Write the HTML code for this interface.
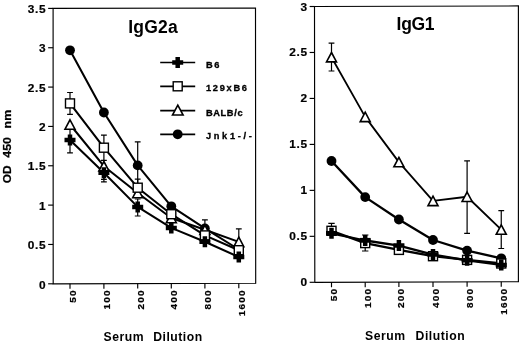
<!DOCTYPE html>
<html><head><meta charset="utf-8"><title>chart</title>
<style>
html,body{margin:0;padding:0;background:#fff;}
svg{display:block;will-change:transform;}
text{font-family:"Liberation Sans",sans-serif;font-weight:bold;fill:#000;}
.yt{font-size:11px;letter-spacing:0.6px;stroke:#000;stroke-width:0.2px;}
.xt{font-size:9.1px;letter-spacing:1.05px;stroke:#000;stroke-width:0.2px;}
.xl{font-size:12.2px;}
.yl{font-size:11.2px;stroke:#000;stroke-width:0.25px;}
.ti{font-size:17.5px;}
.lg{font-size:8.5px;stroke:#000;stroke-width:0.3px;}
</style></head>
<body>
<svg width="520" height="343" viewBox="0 0 520 343">
<rect width="520" height="343" fill="#fff"/>
<path d="M70 103.4 V92.5 M67.1 92.5 H72.9" stroke="#000" stroke-width="1.2" fill="none"/><path d="M70 103.4 V114.4 M67.1 114.4 H72.9" stroke="#000" stroke-width="1.2" fill="none"/><path d="M103.9 147.7 V135.1 M101.0 135.1 H106.80000000000001" stroke="#000" stroke-width="1.2" fill="none"/><path d="M103.9 147.7 V160.4 M101.0 160.4 H106.80000000000001" stroke="#000" stroke-width="1.2" fill="none"/><path d="M137.7 187.7 V179.2 M134.79999999999998 179.2 H140.6" stroke="#000" stroke-width="1.2" fill="none"/><path d="M137.7 165.4 V141.8 M134.79999999999998 141.8 H140.6" stroke="#000" stroke-width="1.2" fill="none"/><path d="M137.7 165.4 V189.0 M134.79999999999998 189.0 H140.6" stroke="#000" stroke-width="1.2" fill="none"/><path d="M70 140.0 V127.1 M67.1 127.1 H72.9" stroke="#000" stroke-width="1.2" fill="none"/><path d="M70 140.0 V152.9 M67.1 152.9 H72.9" stroke="#000" stroke-width="1.2" fill="none"/><path d="M103.9 172.8 V179.4 M101.0 179.4 H106.80000000000001" stroke="#000" stroke-width="1.2" fill="none"/><path d="M103.9 172.8 V181.8 M101.0 181.8 H106.80000000000001" stroke="#000" stroke-width="1.2" fill="none"/><path d="M137.7 206.9 V199 M134.79999999999998 199 H140.6" stroke="#000" stroke-width="1.2" fill="none"/><path d="M137.7 206.9 V216.0 M134.79999999999998 216.0 H140.6" stroke="#000" stroke-width="1.2" fill="none"/><path d="M204.9 229.8 V219.8 M202.0 219.8 H207.8" stroke="#000" stroke-width="1.2" fill="none"/><path d="M238.8 241.9 V228.8 M235.9 228.8 H241.70000000000002" stroke="#000" stroke-width="1.2" fill="none"/>
<path d="M70 50.3 L103.9 112.5 L137.7 165.4 L171.3 206.3 L204.9 228.4 L238.8 249.5" fill="none" stroke="#000" stroke-width="2.05" stroke-linejoin="round"/>
<path d="M70 103.4 L103.9 147.7 L137.7 187.7 L171.3 214.2 L204.9 235.4 L238.8 250.2" fill="none" stroke="#000" stroke-width="2.05" stroke-linejoin="round"/>
<path d="M70 124.5 L103.9 166.2 L137.7 193.0 L171.3 218.0 L204.9 229.8 L238.8 241.9" fill="none" stroke="#000" stroke-width="2.05" stroke-linejoin="round"/>
<path d="M70 140.0 L103.9 172.8 L137.7 206.9 L171.3 227.9 L204.9 241.7 L238.8 257.0" fill="none" stroke="#000" stroke-width="2.05" stroke-linejoin="round"/>
<circle cx="70" cy="50.3" r="4.9" fill="#000"/>
<circle cx="103.9" cy="112.5" r="4.9" fill="#000"/>
<circle cx="137.7" cy="165.4" r="4.9" fill="#000"/>
<circle cx="171.3" cy="206.3" r="4.9" fill="#000"/>
<circle cx="204.9" cy="228.4" r="4.9" fill="#000"/>
<circle cx="238.8" cy="249.5" r="4.9" fill="#000"/>
<path d="M70.00 119.80 L75.00 129.20 L65.00 129.20 Z" fill="#fff" stroke="#000" stroke-width="1.6" stroke-linejoin="miter"/>
<path d="M103.90 161.50 L108.90 170.90 L98.90 170.90 Z" fill="#fff" stroke="#000" stroke-width="1.6" stroke-linejoin="miter"/>
<path d="M137.70 188.30 L142.70 197.70 L132.70 197.70 Z" fill="#fff" stroke="#000" stroke-width="1.6" stroke-linejoin="miter"/>
<path d="M171.30 213.30 L176.30 222.70 L166.30 222.70 Z" fill="#fff" stroke="#000" stroke-width="1.6" stroke-linejoin="miter"/>
<path d="M204.90 225.10 L209.90 234.50 L199.90 234.50 Z" fill="#fff" stroke="#000" stroke-width="1.6" stroke-linejoin="miter"/>
<path d="M238.80 237.20 L243.80 246.60 L233.80 246.60 Z" fill="#fff" stroke="#000" stroke-width="1.6" stroke-linejoin="miter"/>
<rect x="65.50" y="98.90" width="9.0" height="9.0" fill="#fff" stroke="#000" stroke-width="1.4"/>
<rect x="99.40" y="143.20" width="9.0" height="9.0" fill="#fff" stroke="#000" stroke-width="1.4"/>
<rect x="133.20" y="183.20" width="9.0" height="9.0" fill="#fff" stroke="#000" stroke-width="1.4"/>
<rect x="166.80" y="209.70" width="9.0" height="9.0" fill="#fff" stroke="#000" stroke-width="1.4"/>
<rect x="200.40" y="230.90" width="9.0" height="9.0" fill="#fff" stroke="#000" stroke-width="1.4"/>
<rect x="234.30" y="245.70" width="9.0" height="9.0" fill="#fff" stroke="#000" stroke-width="1.4"/>
<path d="M67.75 134.50 h4.5 v3.25 h3.25 v4.5 h-3.25 v3.25 h-4.5 v-3.25 h-3.25 v-4.5 h3.25 Z" fill="#000"/>
<path d="M101.65 167.30 h4.5 v3.25 h3.25 v4.5 h-3.25 v3.25 h-4.5 v-3.25 h-3.25 v-4.5 h3.25 Z" fill="#000"/>
<path d="M135.45 201.40 h4.5 v3.25 h3.25 v4.5 h-3.25 v3.25 h-4.5 v-3.25 h-3.25 v-4.5 h3.25 Z" fill="#000"/>
<path d="M169.05 222.40 h4.5 v3.25 h3.25 v4.5 h-3.25 v3.25 h-4.5 v-3.25 h-3.25 v-4.5 h3.25 Z" fill="#000"/>
<path d="M202.65 236.20 h4.5 v3.25 h3.25 v4.5 h-3.25 v3.25 h-4.5 v-3.25 h-3.25 v-4.5 h3.25 Z" fill="#000"/>
<path d="M236.55 251.50 h4.5 v3.25 h3.25 v4.5 h-3.25 v3.25 h-4.5 v-3.25 h-3.25 v-4.5 h3.25 Z" fill="#000"/>
<path d="M53.1 8.4 L255.5 8.0 L255.7 283.3 L53.2 283.8 Z" fill="none" stroke="#000" stroke-width="1.15"/>
<path d="M48.15 283.80 H53.15" stroke="#000" stroke-width="1.15"/>
<text transform="translate(46.2,288.50) scale(1.08,1)" text-anchor="end" class="yt">0</text>
<path d="M48.15 244.46 H53.15" stroke="#000" stroke-width="1.15"/>
<text transform="translate(46.2,249.16) scale(1.08,1)" text-anchor="end" class="yt">0.5</text>
<path d="M48.15 205.11 H53.15" stroke="#000" stroke-width="1.15"/>
<text transform="translate(46.2,209.81) scale(1.08,1)" text-anchor="end" class="yt">1</text>
<path d="M48.15 165.77 H53.15" stroke="#000" stroke-width="1.15"/>
<text transform="translate(46.2,170.47) scale(1.08,1)" text-anchor="end" class="yt">1.5</text>
<path d="M48.15 126.43 H53.15" stroke="#000" stroke-width="1.15"/>
<text transform="translate(46.2,131.13) scale(1.08,1)" text-anchor="end" class="yt">2</text>
<path d="M48.15 87.09 H53.15" stroke="#000" stroke-width="1.15"/>
<text transform="translate(46.2,91.79) scale(1.08,1)" text-anchor="end" class="yt">2.5</text>
<path d="M48.15 47.74 H53.15" stroke="#000" stroke-width="1.15"/>
<text transform="translate(46.2,52.44) scale(1.08,1)" text-anchor="end" class="yt">3</text>
<path d="M48.15 8.40 H53.15" stroke="#000" stroke-width="1.15"/>
<text transform="translate(46.2,13.10) scale(1.08,1)" text-anchor="end" class="yt">3.5</text>
<path d="M70 283.76 V288.76" stroke="#000" stroke-width="1.15"/>
<text transform="translate(76.10,289.4) rotate(-90) scale(1.1,1)" text-anchor="end" class="xt">50</text>
<path d="M103.9 283.67 V288.67" stroke="#000" stroke-width="1.15"/>
<text transform="translate(110.00,289.4) rotate(-90) scale(1.1,1)" text-anchor="end" class="xt">100</text>
<path d="M137.7 283.59 V288.59" stroke="#000" stroke-width="1.15"/>
<text transform="translate(143.80,289.4) rotate(-90) scale(1.1,1)" text-anchor="end" class="xt">200</text>
<path d="M171.3 283.51 V288.51" stroke="#000" stroke-width="1.15"/>
<text transform="translate(177.40,289.4) rotate(-90) scale(1.1,1)" text-anchor="end" class="xt">400</text>
<path d="M204.9 283.43 V288.43" stroke="#000" stroke-width="1.15"/>
<text transform="translate(211.00,289.4) rotate(-90) scale(1.1,1)" text-anchor="end" class="xt">800</text>
<path d="M238.8 283.34 V288.34" stroke="#000" stroke-width="1.15"/>
<text transform="translate(244.90,289.4) rotate(-90) scale(1.1,1)" text-anchor="end" class="xt">1600</text>
<text x="103.5" y="340.6" class="xl" textLength="40" lengthAdjust="spacing">Serum</text>
<text x="153.3" y="340.6" class="xl" textLength="48.8" lengthAdjust="spacing">Dilution</text>
<text x="128.3" y="32.7" class="ti" textLength="49.4" lengthAdjust="spacing">IgG2a</text>
<text transform="translate(11.1,183.3) rotate(-90)" class="yl" textLength="17.7" lengthAdjust="spacingAndGlyphs">OD</text>
<text transform="translate(11.1,157.7) rotate(-90)" class="yl" textLength="20.6" lengthAdjust="spacingAndGlyphs">450</text>
<text transform="translate(11.1,128.4) rotate(-90)" class="yl" textLength="18.6" lengthAdjust="spacingAndGlyphs">nm</text>
<path d="M160.2 62.5 H195.2" stroke="#000" stroke-width="1.7"/>
<path d="M160.2 86.3 H195.2" stroke="#000" stroke-width="1.7"/>
<path d="M160.2 110.6 H195.2" stroke="#000" stroke-width="1.7"/>
<path d="M160.2 134.3 H195.2" stroke="#000" stroke-width="1.7"/>
<path d="M175.45 57.00 h4.5 v3.25 h3.25 v4.5 h-3.25 v3.25 h-4.5 v-3.25 h-3.25 v-4.5 h3.25 Z" fill="#000"/>
<rect x="173.20" y="81.80" width="9.0" height="9.0" fill="#fff" stroke="#000" stroke-width="1.4"/>
<path d="M177.80 105.20 L183.10 115.00 L172.50 115.00 Z" fill="#fff" stroke="#000" stroke-width="1.6" stroke-linejoin="miter"/>
<circle cx="177.7" cy="134.3" r="4.9" fill="#000"/>
<text transform="translate(205.9,67.50) scale(1.09,1)" class="lg" textLength="12.29" lengthAdjust="spacing">B6</text>
<text transform="translate(205.9,91.30) scale(1.09,1)" class="lg" textLength="37.71" lengthAdjust="spacing">129xB6</text>
<text transform="translate(205.9,115.60) scale(1.09,1)" class="lg" textLength="33.67" lengthAdjust="spacing">BALB/c</text>
<text transform="translate(205.9,139.30) scale(1.09,1)" class="lg" textLength="42.20" lengthAdjust="spacing">Jnk1-/-</text>
<path d="M331.5 57.2 V43.2 M328.6 43.2 H334.4" stroke="#000" stroke-width="1.2" fill="none"/><path d="M331.5 57.2 V71.0 M328.6 71.0 H334.4" stroke="#000" stroke-width="1.2" fill="none"/><path d="M467.1 196.75 V160.8 M464.20000000000005 160.8 H470.0" stroke="#000" stroke-width="1.2" fill="none"/><path d="M467.1 196.75 V233.3 M464.20000000000005 233.3 H470.0" stroke="#000" stroke-width="1.2" fill="none"/><path d="M501.25 229.6 V210.7 M498.35 210.7 H504.15" stroke="#000" stroke-width="1.2" fill="none"/><path d="M501.25 229.6 V248.5 M498.35 248.5 H504.15" stroke="#000" stroke-width="1.2" fill="none"/><path d="M331.5 230.8 V223.4 M328.3 223.4 H334.7" stroke="#000" stroke-width="1.2" fill="none"/><path d="M365.2 243.1 V235.0 M362.0 235.0 H368.4" stroke="#000" stroke-width="1.2" fill="none"/><path d="M365.2 243.1 V251.0 M362.0 251.0 H368.4" stroke="#000" stroke-width="1.2" fill="none"/>
<path d="M331.5 57.2 L365.2 116.9 L398.9 162.1 L433.0 200.9 L467.1 196.75 L501.25 229.6" fill="none" stroke="#000" stroke-width="1.8" stroke-linejoin="round"/>
<path d="M331.5 161.0 L365.2 197.1 L398.9 219.5 L433.0 240.0 L467.1 250.6 L501.25 258.3" fill="none" stroke="#000" stroke-width="2.3" stroke-linejoin="round"/>
<path d="M331.5 230.8 L365.2 243.1 L398.9 249.9 L433.0 256.2 L467.1 259.9 L501.25 263.5" fill="none" stroke="#000" stroke-width="2.3" stroke-linejoin="round"/>
<path d="M331.5 233.3 L365.2 240.5 L398.9 245.6 L433.0 254.6 L467.1 260.3 L501.25 264.9" fill="none" stroke="#000" stroke-width="2.3" stroke-linejoin="round"/>
<circle cx="331.5" cy="161.0" r="4.9" fill="#000"/>
<circle cx="365.2" cy="197.1" r="4.9" fill="#000"/>
<circle cx="398.9" cy="219.5" r="4.9" fill="#000"/>
<circle cx="433.0" cy="240.0" r="4.9" fill="#000"/>
<circle cx="467.1" cy="250.6" r="4.9" fill="#000"/>
<circle cx="501.25" cy="258.3" r="4.9" fill="#000"/>
<path d="M331.50 52.50 L336.50 61.90 L326.50 61.90 Z" fill="#fff" stroke="#000" stroke-width="1.6" stroke-linejoin="miter"/>
<path d="M365.20 112.20 L370.20 121.60 L360.20 121.60 Z" fill="#fff" stroke="#000" stroke-width="1.6" stroke-linejoin="miter"/>
<path d="M398.90 157.40 L403.90 166.80 L393.90 166.80 Z" fill="#fff" stroke="#000" stroke-width="1.6" stroke-linejoin="miter"/>
<path d="M433.00 196.20 L438.00 205.60 L428.00 205.60 Z" fill="#fff" stroke="#000" stroke-width="1.6" stroke-linejoin="miter"/>
<path d="M467.10 192.05 L472.10 201.45 L462.10 201.45 Z" fill="#fff" stroke="#000" stroke-width="1.6" stroke-linejoin="miter"/>
<path d="M501.25 224.90 L506.25 234.30 L496.25 234.30 Z" fill="#fff" stroke="#000" stroke-width="1.6" stroke-linejoin="miter"/>
<rect x="327.00" y="226.30" width="9.0" height="9.0" fill="#fff" stroke="#000" stroke-width="1.4"/>
<rect x="360.70" y="238.60" width="9.0" height="9.0" fill="#fff" stroke="#000" stroke-width="1.4"/>
<rect x="394.40" y="245.40" width="9.0" height="9.0" fill="#fff" stroke="#000" stroke-width="1.4"/>
<rect x="428.50" y="251.70" width="9.0" height="9.0" fill="#fff" stroke="#000" stroke-width="1.4"/>
<rect x="462.60" y="255.40" width="9.0" height="9.0" fill="#fff" stroke="#000" stroke-width="1.4"/>
<rect x="496.75" y="259.00" width="9.0" height="9.0" fill="#fff" stroke="#000" stroke-width="1.4"/>
<path d="M329.25 227.80 h4.5 v3.25 h3.25 v4.5 h-3.25 v3.25 h-4.5 v-3.25 h-3.25 v-4.5 h3.25 Z" fill="#000"/>
<path d="M362.95 235.00 h4.5 v3.25 h3.25 v4.5 h-3.25 v3.25 h-4.5 v-3.25 h-3.25 v-4.5 h3.25 Z" fill="#000"/>
<path d="M396.65 240.10 h4.5 v3.25 h3.25 v4.5 h-3.25 v3.25 h-4.5 v-3.25 h-3.25 v-4.5 h3.25 Z" fill="#000"/>
<path d="M430.75 249.10 h4.5 v3.25 h3.25 v4.5 h-3.25 v3.25 h-4.5 v-3.25 h-3.25 v-4.5 h3.25 Z" fill="#000"/>
<path d="M464.85 254.80 h4.5 v3.25 h3.25 v4.5 h-3.25 v3.25 h-4.5 v-3.25 h-3.25 v-4.5 h3.25 Z" fill="#000"/>
<path d="M499.00 259.40 h4.5 v3.25 h3.25 v4.5 h-3.25 v3.25 h-4.5 v-3.25 h-3.25 v-4.5 h3.25 Z" fill="#000"/>
<path d="M314.5 6.5 L518.4 5.95 L518.4 281.7 L314.8 282.3 Z" fill="none" stroke="#000" stroke-width="1.15"/>
<path d="M309.65 282.30 H314.65" stroke="#000" stroke-width="1.15"/>
<text transform="translate(307.8,286.30) scale(1.08,1)" text-anchor="end" class="yt">0</text>
<path d="M309.65 236.33 H314.65" stroke="#000" stroke-width="1.15"/>
<text transform="translate(307.8,240.33) scale(1.08,1)" text-anchor="end" class="yt">0.5</text>
<path d="M309.65 190.37 H314.65" stroke="#000" stroke-width="1.15"/>
<text transform="translate(307.8,194.37) scale(1.08,1)" text-anchor="end" class="yt">1</text>
<path d="M309.65 144.40 H314.65" stroke="#000" stroke-width="1.15"/>
<text transform="translate(307.8,148.40) scale(1.08,1)" text-anchor="end" class="yt">1.5</text>
<path d="M309.65 98.43 H314.65" stroke="#000" stroke-width="1.15"/>
<text transform="translate(307.8,102.43) scale(1.08,1)" text-anchor="end" class="yt">2</text>
<path d="M309.65 52.47 H314.65" stroke="#000" stroke-width="1.15"/>
<text transform="translate(307.8,56.47) scale(1.08,1)" text-anchor="end" class="yt">2.5</text>
<path d="M309.65 6.50 H314.65" stroke="#000" stroke-width="1.15"/>
<text transform="translate(307.8,10.50) scale(1.08,1)" text-anchor="end" class="yt">3</text>
<path d="M331.5 282.25 V287.25" stroke="#000" stroke-width="1.15"/>
<text transform="translate(336.70,287.9) rotate(-90) scale(1.1,1)" text-anchor="end" class="xt">50</text>
<path d="M365.2 282.15 V287.15" stroke="#000" stroke-width="1.15"/>
<text transform="translate(370.52,287.9) rotate(-90) scale(1.1,1)" text-anchor="end" class="xt">100</text>
<path d="M398.9 282.05 V287.05" stroke="#000" stroke-width="1.15"/>
<text transform="translate(404.34,287.9) rotate(-90) scale(1.1,1)" text-anchor="end" class="xt">200</text>
<path d="M433.0 281.95 V286.95" stroke="#000" stroke-width="1.15"/>
<text transform="translate(438.56,287.9) rotate(-90) scale(1.1,1)" text-anchor="end" class="xt">400</text>
<path d="M467.1 281.85 V286.85" stroke="#000" stroke-width="1.15"/>
<text transform="translate(472.78,287.9) rotate(-90) scale(1.1,1)" text-anchor="end" class="xt">800</text>
<path d="M501.25 281.75 V286.75" stroke="#000" stroke-width="1.15"/>
<text transform="translate(507.05,287.9) rotate(-90) scale(1.1,1)" text-anchor="end" class="xt">1600</text>
<text x="365.1" y="339.8" class="xl" textLength="40" lengthAdjust="spacing">Serum</text>
<text x="415.6" y="339.8" class="xl" textLength="49" lengthAdjust="spacing">Dilution</text>
<text x="396.6" y="30.1" class="ti" textLength="37.9" lengthAdjust="spacing">IgG1</text>
</svg>
</body></html>
